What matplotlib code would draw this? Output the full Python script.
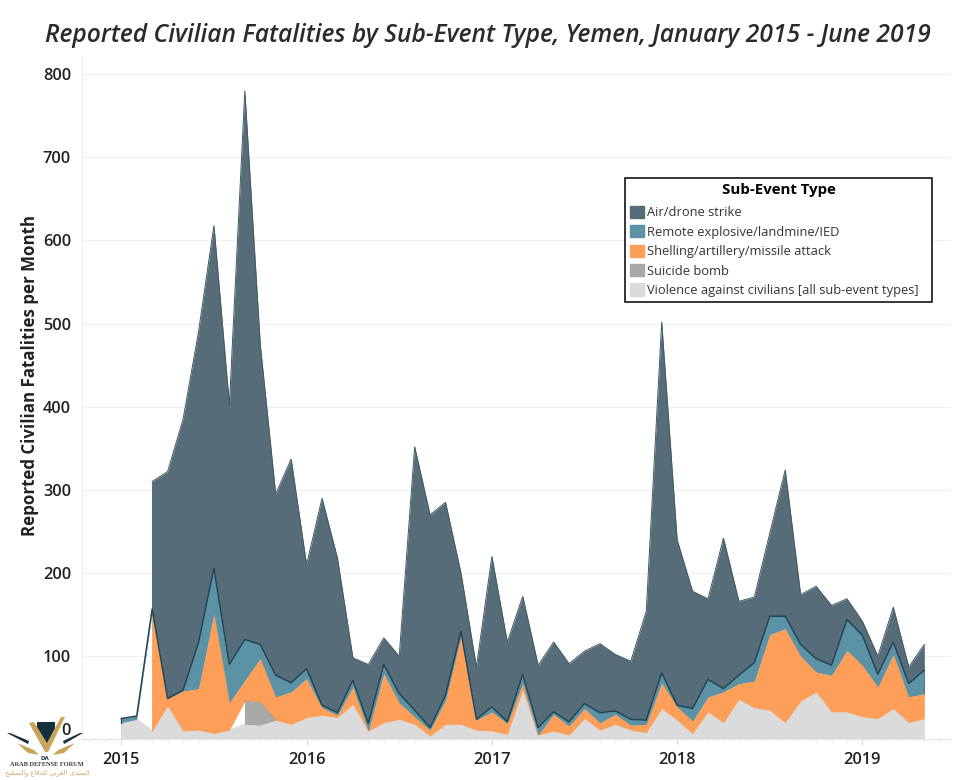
import numpy as np
import matplotlib
matplotlib.use("Agg")
import matplotlib.pyplot as plt
from matplotlib.patches import Patch, Polygon

nan = np.nan
MONTH_INDEX = np.arange(53)          # months since January 2015
YEAR_LABELS = ["2015", "2016", "2017", "2018", "2019"]
Y_TICKS = [0, 100, 200, 300, 400, 500, 600, 700, 800]

violence = [20,24,10,40,10,11,7,11,18,17,23,18,26,29,26,42,10,20,24,18,4,18,18,11,10,6,59,5,10,5,25,11,18,11,8,37,23,7,33,20,48,38,35,20,46,57,33,33,27,25,37,20,25]
suicide = [nan]*8 + [28,27,0] + [nan]*42
shelling = [nan,nan,143,9,48,50,144,33,25,53,28,39,47,9,3,21,0,59,20,9,7,29,106,12,23,13,8,0,20,11,12,9,12,6,10,31,16,15,18,37,19,32,91,113,54,24,44,74,62,38,65,31,30]
remote = [5,4,4,0,1,55,55,46,49,17,26,11,12,3,3,8,9,11,11,8,3,6,6,1,6,2,11,9,3,5,6,12,4,7,5,12,2,15,21,4,10,22,22,15,14,16,12,37,36,15,15,16,28]
air = [nan,nan,153,273,326,374,412,312,660,361,218,269,125,249,186,27,71,32,45,317,256,232,70,63,181,96,94,75,84,70,63,83,68,70,131,422,199,141,97,181,89,79,100,176,60,87,72,25,17,22,42,20,31]

C_AIR, C_REMOTE, C_SHELL, C_SUICIDE, C_VIOL = "#566d79", "#5b92a5", "#fd9f58", "#a9a9a9", "#dbdbdb"
E_AIR, E_REMOTE, E_SHELL, E_SUICIDE, E_VIOL = "#3f5a66", "#1f4654", "#f39a54", "#9a9a9a", "#d2d2d2"
LABELS = ["Air/drone strike", "Remote explosive/landmine/IED",
          "Shelling/artillery/missile attack", "Suicide bomb",
          "Violence against civilians [all sub-event types]"]

FONT = "Open Sans"
plt.rcParams["font.family"] = [FONT, "DejaVu Sans"]
W, H = 975, 780
fig = plt.figure(figsize=(W/100, H/100), dpi=100, facecolor="white")
L, R, T, B = 82, 951, 58, 739.3
ax = fig.add_axes([L/W, 1-B/H, (R-L)/W, (B-T)/H])
px_month = 15.44

x = MONTH_INDEX
v = np.array(violence, float)
s = np.nan_to_num(np.array(suicide, float))
sh = np.array(shelling, float)
r = np.array(remote, float)
a = np.array(air, float)

top_v = v
top_s = v + s
top_sh = top_s + sh
base_r = np.where(np.isnan(top_sh), top_s, top_sh)
top_r = base_r + r
top_a = top_r + a

def band(low, high, face, edge, lw, z, mask=None):
    m = np.ones_like(x, bool) if mask is None else mask
    ax.fill_between(x[m], low[m], high[m], color=face, lw=0, zorder=z)
    ax.plot(x[m], high[m], color=edge, lw=lw, zorder=z+0.5, solid_joinstyle="miter")
    ax.plot([x[m][0]]*2, [low[m][0], high[m][0]], color=edge, lw=lw*0.8, zorder=z+0.5)
    ax.plot([x[m][-1]]*2, [low[m][-1], high[m][-1]], color=edge, lw=lw*0.6, alpha=.6, zorder=z+0.5)

band(np.zeros_like(v), top_v, C_VIOL, E_VIOL, 0.7, 2)
band(top_v, top_s, C_SUICIDE, E_SUICIDE, 0.6, 2.6, mask=~np.isnan(np.array(suicide, float)))
band(top_s, top_sh, C_SHELL, E_SHELL, 0.7, 3, mask=~np.isnan(sh))
band(base_r, top_r, C_REMOTE, E_REMOTE, 1.1, 4)
band(top_r, top_a, C_AIR, E_AIR, 0.7, 3.8, mask=~np.isnan(a))

# gridlines, spines, ticks
ax.set_yticks(Y_TICKS)
ax.set_yticklabels([str(t) for t in Y_TICKS], fontsize=11.8, color="#222222", fontweight="semibold")
ax.get_yticklabels()[0].set_verticalalignment("bottom")
ax.set_xticks(np.arange(0, 53, 12))
ax.set_xticklabels(YEAR_LABELS, fontsize=11.8, color="#222222", fontweight="semibold")
ax.set_xticks(np.arange(-2, 54), minor=True)
ax.set_xlim((L-121.3)/px_month, (R-121.3)/px_month)
ax.set_ylim(0, (B-T)/0.8315)
ax.grid(axis="y", color="#f0f0f0", lw=0.9, zorder=0)
ax.set_axisbelow(True)
ax.tick_params(axis="y", length=0, pad=8)
ax.tick_params(axis="x", which="major", length=4, color="#dddddd", pad=5)
ax.tick_params(axis="x", which="minor", length=2, color="#e4e4e4")
for sp in ["top", "right"]:
    ax.spines[sp].set_visible(False)
ax.spines["left"].set_color("#eeeeee")
ax.spines["bottom"].set_color("#e4e4e4")
for sp in ax.spines.values():
    sp.set_linewidth(0.8)

fig.text(30/W, 1-376/H, "Reported Civilian Fatalities per Month", rotation=90,
         ha="center", va="center", fontsize=12.2, fontweight="bold", color="#222222")
fig.text(487.5/W, 1-35/H, "Reported Civilian Fatalities by Sub-Event Type, Yemen, January 2015 - June 2019",
         ha="center", va="center", fontsize=17.75, style="italic", fontweight="semibold", color="#2b2b2b")

# legend
handles = [Patch(color=c) for c in [C_AIR, C_REMOTE, C_SHELL, C_SUICIDE, C_VIOL]]
leg = ax.legend(handles, LABELS, title="Sub-Event Type", loc="upper left",
                bbox_to_anchor=(625/W, 1-299/H, 307/W, 121/H), bbox_transform=fig.transFigure,
                mode="expand", fontsize=9.25, frameon=True, fancybox=False, edgecolor="black", framealpha=1,
                handlelength=1.1, handleheight=1.1, handletextpad=0.25, labelspacing=0.46,
                borderpad=0.36, borderaxespad=0,
                title_fontproperties={"size": 10.8, "weight": "bold", "family": FONT})
leg.get_frame().set_linewidth(1.1)
leg.set_zorder(10)
leg._legend_box.sep = 6.5
for t in leg.get_texts():
    t.set_color("#333333")

# watermark logo (decorative, in pixel-like figure coordinates)
def P(pts, color):
    fig.add_artist(Polygon([(px/W, 1-py/H) for px, py in pts], closed=True, transform=fig.transFigure,
                           fc=color, ec="none", zorder=20))
P([(37,722),(55,722),(55,734),(47,744),(37,734)], "#14303d")
P([(29,723),(34,722),(47,743),(61,717),(65,717),(48,752),(45,752)], "#c9a55c")
P([(7,733),(10,733),(29,741),(28,744)], "#14303d")
P([(83,733),(80,733),(63,741),(64,744)], "#14303d")
P([(17,743),(34,750),(39,755),(28,753)], "#c9a55c")
P([(75,743),(58,750),(53,755),(64,753)], "#c9a55c")
fig.text(45/W, 1-758/H, "DA", fontsize=4.5, fontweight="bold", color="#14303d", ha="center", va="center", zorder=21)
fig.text(47/W, 1-765/H, "ARAB DEFENSE FORUM", fontsize=4.6, family="Liberation Serif", fontweight="bold",
         color="#3a3a3a", ha="center", va="center", zorder=21)
arabic = "ﺍﻟﻤﻨﺘﺪﻯ ﺍﻟﻌﺮﺑﻲ ﻟﻠﺪﻓﺎﻉ ﻭﺍﻟﺘﺴﻠﻴﺢ"[::-1]
fig.text(47/W, 1-773/H, arabic, fontsize=4.8, family="DejaVu Sans", color="#c9a96b",
         ha="center", va="center", zorder=21)

fig.savefig("out.png", dpi=100)
